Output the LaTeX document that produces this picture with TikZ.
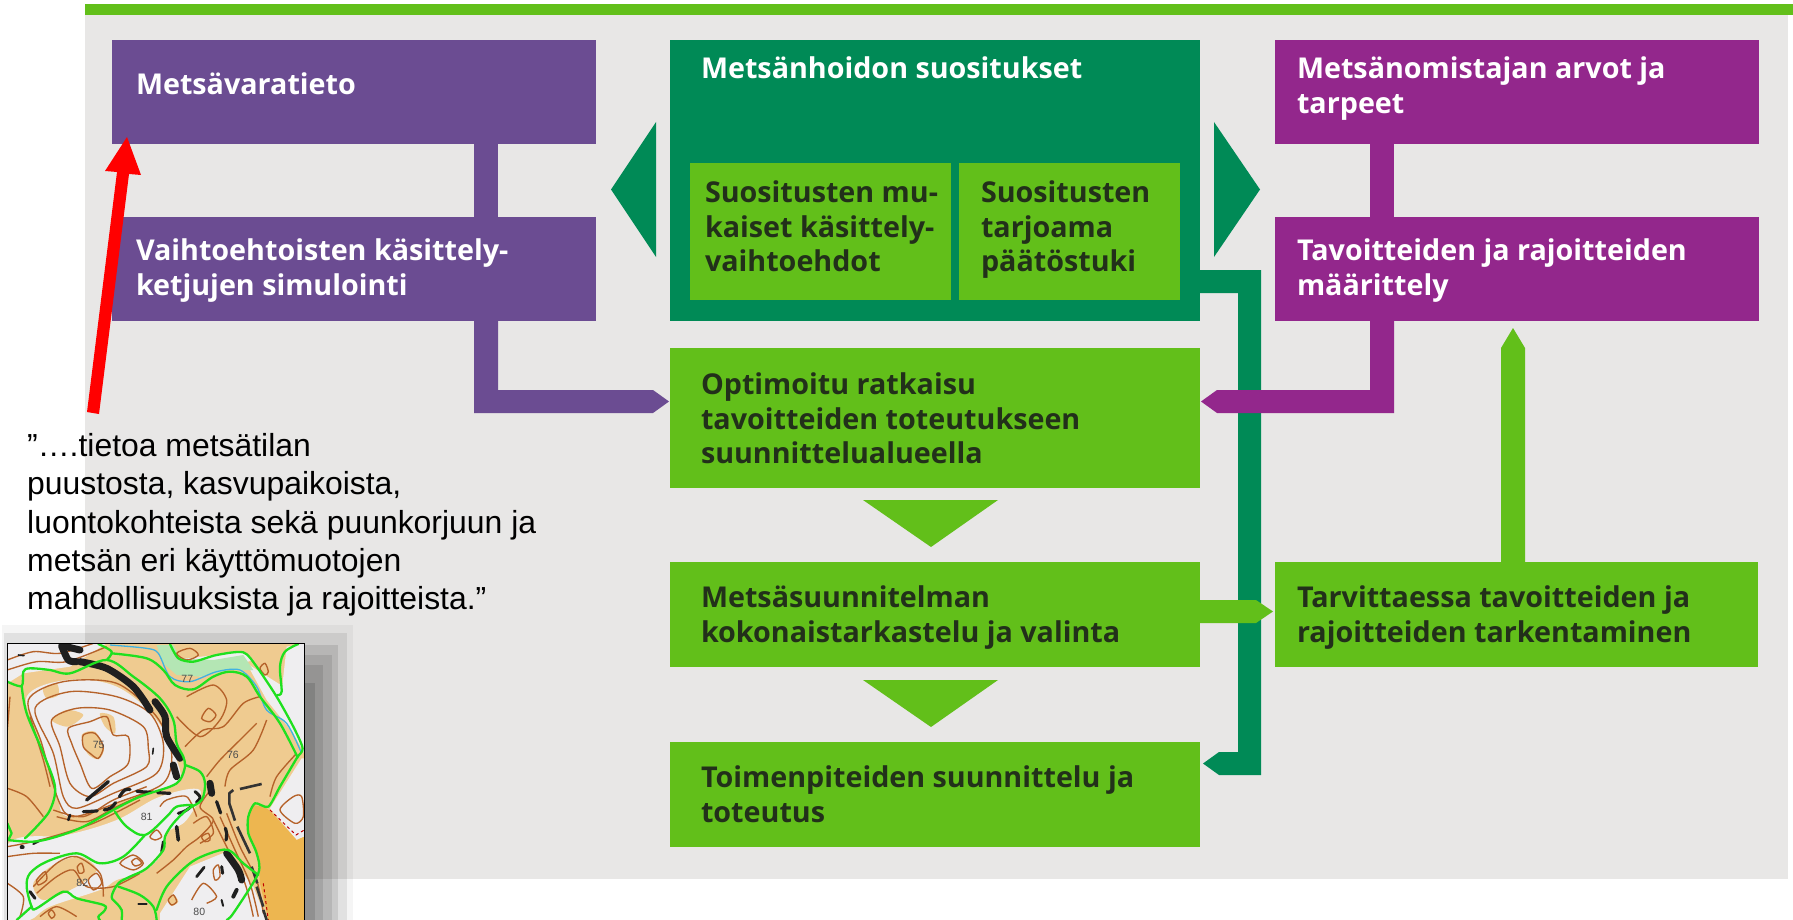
\documentclass[tikz,border=0pt]{standalone}
\usepackage{fontspec}
\setmainfont{Open Sans}
\newfontfamily\arialfont{Liberation Sans}
\usetikzlibrary{calc}
\definecolor{bggray}{HTML}{E8E7E6}
\definecolor{topgreen}{HTML}{62BF1A}
\definecolor{lgreen}{HTML}{62BF1A}
\definecolor{dgreen}{HTML}{008A56}
\definecolor{violet1}{HTML}{6B4C92}
\definecolor{magenta1}{HTML}{93278C}
\definecolor{txtdark}{HTML}{22301A}
\definecolor{maptan}{HTML}{EFCB90}
\definecolor{mapwhite}{HTML}{EFEEF0}
\definecolor{mapbrown}{HTML}{B5622A}
\definecolor{mapgreen}{HTML}{1FE01F}
\definecolor{mapblue}{HTML}{3FB2E2}
\definecolor{maporange}{HTML}{EDB650}
\definecolor{mappale}{HTML}{B4E6B4}
\tikzset{
  x=1pt,y=-1pt,
  boxtext/.style={font=\fontsize{28.7}{34.8}\selectfont\bfseries,align=left,anchor=north west,inner sep=0pt,outer sep=0pt},
  lighttext/.style={boxtext,text=white},
  darktext/.style={boxtext,text=txtdark},
  quotetext/.style={font=\arialfont\fontsize{31.9}{38.4}\selectfont,anchor=base west,inner sep=0pt,text=black},
  contour/.style={draw=mapbrown,line width=1.35pt},
  mapg/.style={draw=mapgreen,line width=2.3pt,line join=round,line cap=round},
  mapk/.style={draw=black!88,line width=7pt,line cap=round,line join=round},
  mapd/.style={draw=black!80,line width=2.6pt,line cap=butt},
  mapnum/.style={font=\arialfont\fontsize{10.5}{11}\selectfont,text=black!70,inner sep=0pt},
}
\begin{document}
\begin{tikzpicture}
\useasboundingbox (0,0) rectangle (1793,920);
\fill[white] (0,0) rectangle (1793,920);
% panel
\fill[bggray] (85,5) rectangle (1788,879);
\fill[topgreen] (85,4) rectangle (1793,15);
% connectors under boxes
\fill[violet1] (474,144) rectangle (498,217);
\fill[violet1] (474,321) -- (498,321) -- (498,390) -- (653,390) -- (669,401.5) -- (653,413) -- (474,413) -- cycle;
\fill[magenta1] (1370,144) rectangle (1394,217);
\fill[dgreen] (1200,270) -- (1261,270) -- (1261,775) -- (1219,775) -- (1203,763.5) -- (1219,752) -- (1238,752) -- (1238,293) -- (1200,293) -- cycle;
\fill[magenta1] (1370,321) -- (1394,321) -- (1394,413) -- (1217,413) -- (1201,401.5) -- (1217,390) -- (1370,390) -- cycle;
\fill[lgreen] (1200,600) -- (1256,600) -- (1273,611.5) -- (1256,623) -- (1200,623) -- cycle;
\fill[lgreen] (1501,562) -- (1501,348) -- (1513,328) -- (1525,348) -- (1525,562) -- cycle;
% triangles
\fill[dgreen] (656,122) -- (611,189.5) -- (656,257) -- cycle;
\fill[dgreen] (1214,122) -- (1260,189.5) -- (1214,257) -- cycle;
\fill[lgreen] (863,500) -- (998,500) -- (931,547) -- cycle;
\fill[lgreen] (863,680) -- (998,680) -- (931,727) -- cycle;
% boxes
\fill[violet1] (112,40) rectangle (596,144);
\node[lighttext] (t1) at (136,72.5) {Metsävaratieto};
\fill[violet1] (112,217) rectangle (596,321);
\node[lighttext] (t2) at (136,238.5) {Vaihtoehtoisten käsittely-\\ketjujen simulointi};
\fill[dgreen] (670,40) rectangle (1200,321);
\node[lighttext] (t3) at (701,56.5) {Metsänhoidon suositukset};
\fill[lgreen] (690,163) rectangle (951,300);
\node[darktext] (t4) at (705,180.5) {Suositusten mu-\\kaiset käsittely-\\vaihtoehdot};
\fill[lgreen] (959,163) rectangle (1180,300);
\node[darktext] (t5) at (981,180.5) {Suositusten\\tarjoama\\päätöstuki};
\fill[magenta1] (1275,40) rectangle (1759,144);
\node[lighttext] (t6) at (1297,56.5) {Metsänomistajan arvot ja\\tarpeet};
\fill[magenta1] (1275,217) rectangle (1759,321);
\node[lighttext] (t7) at (1297,238.5) {Tavoitteiden ja rajoitteiden\\määrittely};
\fill[lgreen] (670,348) rectangle (1200,488);
\node[darktext] (t8) at (701,372.5) {Optimoitu ratkaisu\\tavoitteiden toteutukseen\\suunnittelualueella};
\fill[lgreen] (670,562) rectangle (1200,667);
\node[darktext] (t9) at (701,585.5) {Metsäsuunnitelman\\kokonaistarkastelu ja valinta};
\fill[lgreen] (670,742) rectangle (1200,847);
\node[darktext] (t10) at (701,765.5) {Toimenpiteiden suunnittelu ja\\toteutus};
\fill[lgreen] (1275,562) rectangle (1758,667);
\node[darktext] (t11) at (1297,585.5) {Tarvittaessa tavoitteiden ja\\rajoitteiden tarkentaminen};
% red arrow
\fill[red] (87,412) -- (117,172) -- (105,171) -- (127,137) -- (141,175) -- (129,174) -- (99,414) -- cycle;
% quote
\node[quotetext] (q) at (27,456) {”….tietoa metsätilan};
\node[quotetext] (q2) at (27,494.5) {puustosta, kasvupaikoista,};
\node[quotetext] (q3) at (27,533) {luontokohteista sekä puunkorjuun ja};
\node[quotetext] (q4) at (27,571.5) {metsän eri käyttömuotojen};
\node[quotetext] (q5) at (27,609.5) {mahdollisuuksista ja rajoitteista.”};
% shadow
\foreach \l/\r/\t/\o in {2/353/625/.04,4/347/633/.08,12/338/645/.10,12/332/655/.09,12/323/665/.10,12/315/683/.12}{
  \fill[black,opacity=\o] (\l,\t) rectangle (\r,920);
}
% map
\begin{scope}[x=0.3333pt,y=-0.3333pt,shift={(0pt,-620pt)}]
\begin{scope}
\clip (22,70) rectangle (913,900);
\fill[maptan] (22,70) rectangle (913,900);
\fill[mapwhite] plot[smooth cycle,tension=.6] coordinates {(80,230)(200,180)(350,200)(470,300)(530,420)(530,490)(400,530)(210,590)(170,520)(120,350)};
\fill[mapwhite] plot[smooth cycle,tension=.6] coordinates {(22,675)(200,645)(350,600)(480,530)(600,510)(560,600)(500,640)(480,710)(420,760)(350,780)(300,810)(150,860)(90,900)(22,900)};
\fill[mapwhite] (22,70)--(320,70)--(210,140)--(70,160)--(22,190)--cycle;
\fill[mapwhite] (740,130)--(913,240)--(913,400)--(880,340)--(800,240)--cycle;
\fill[mapwhite] (520,120)--(730,95)--(760,120)--(600,170)--cycle;
\fill[mapwhite] (860,80)--(913,70)--(913,240)--(845,215)--cycle;
\fill[mapwhite] (480,880)--(570,740)--(680,695)--(760,800)--(800,900)--(480,900)--cycle;
\fill[mapwhite] (905,415)--(913,415)--(913,650)--(890,660)--(810,565)--cycle;
% tan patches on the hill and in the lower band
\fill[maptan] plot[smooth cycle] coordinates {(245,345)(285,335)(312,385)(295,418)(262,400)};
\fill[maptan] plot[smooth cycle] coordinates {(155,300)(200,270)(250,285)(205,320)};
\fill[maptan] plot[smooth cycle] coordinates {(300,280)(340,290)(345,340)(315,320)};
\fill[maptan] plot[smooth cycle] coordinates {(130,205)(170,190)(175,225)(140,235)};
\fill[maptan] plot[smooth cycle] coordinates {(100,790)(160,735)(240,710)(290,750)(230,800)(130,840)};
\fill[maptan] plot[smooth cycle] coordinates {(505,840)(520,825)(535,845)(515,858)};
\fill[maptan] plot[smooth cycle] coordinates {(190,880)(300,860)(360,900)(190,900)};
\fill[mappale] (470,75)--(520,75)--(540,115)--(640,120)--(730,105)--(760,150)--(690,150)--(600,170)--(530,165)--(490,130)--cycle;
\fill[maporange] plot[smooth,tension=.3] coordinates {(760,555)(800,565)(845,610)}--(890,660)--(913,650)--(913,900)--(805,900)--(780,790)--(775,720)--(745,640)--(742,600)--cycle;
% red dashes
\draw[red!75!black,line width=1pt,dashed] (810,570)--(888,645)--(913,630);
\draw[red!75!black,line width=1pt,dashed] (790,790)--(805,900);
% contours
\draw[contour] plot[smooth cycle] coordinates {(250,345)(285,340)(310,380)(295,415)(270,400)(250,380)};
\draw[contour] plot[smooth cycle] coordinates {(205,325)(270,305)(320,290)(340,345)(385,350)(385,430)(330,470)(275,505)(240,430)(215,370)};
\draw[contour] plot[smooth cycle] coordinates {(155,300)(230,265)(330,270)(430,320)(445,385)(440,440)(340,490)(270,530)(210,490)(180,380)};
\draw[contour] plot[smooth cycle] coordinates {(105,265)(210,215)(350,230)(450,280)(490,370)(470,460)(340,520)(230,565)(190,530)(160,400)};
\draw[contour] plot[smooth cycle] coordinates {(85,240)(190,185)(350,190)(470,290)(515,400)(490,490)(360,545)(220,590)(175,540)(125,370)};
\draw[contour] plot[smooth] coordinates {(22,120)(100,95)(180,100)(280,70)};
\draw[contour] plot[smooth] coordinates {(22,150)(110,125)(200,125)(320,80)};
\draw[contour] plot[smooth] coordinates {(30,230)(22,330)};
\draw[contour] plot[smooth] coordinates {(90,290)(130,420)(150,500)};
\draw[contour] plot[smooth] coordinates {(22,505)(80,530)(130,590)};
\draw[contour] plot[smooth] coordinates {(530,290)(600,350)(660,300)(680,240)(640,195)(560,230)};
\draw[contour] plot[smooth cycle] coordinates {(605,295)(625,265)(648,285)(630,305)};
\draw[contour] plot[smooth] coordinates {(555,380)(610,330)(670,320)(730,250)(780,230)};
\draw[contour] plot[smooth] coordinates {(620,470)(660,420)(720,360)(770,310)};
\draw[contour] plot[smooth] coordinates {(675,500)(690,450)(760,390)(800,300)};
\draw[contour] plot[smooth] coordinates {(810,530)(830,470)(890,400)};
\draw[contour] plot[smooth cycle] coordinates {(530,100)(570,85)(595,105)(560,120)};
\draw[contour] plot[smooth cycle] coordinates {(780,145)(795,130)(805,155)(795,165)};
\draw[contour] plot[smooth] coordinates {(640,500)(600,560)(640,600)(600,650)(560,680)(520,720)(470,760)};
\draw[contour] plot[smooth] coordinates {(680,580)(720,680)(770,780)(790,880)};
\draw[contour] plot[smooth] coordinates {(660,590)(705,690)(750,790)(775,890)};
\draw[contour] plot[smooth] coordinates {(640,600)(690,700)(735,790)(760,890)};
\draw[contour] plot[smooth cycle] coordinates {(605,650)(625,640)(630,660)(615,665)};
\draw[contour] plot[smooth cycle] coordinates {(450,650)(470,630)(485,650)(465,660)};
\draw[contour] plot[smooth] coordinates {(480,560)(500,540)(560,530)(590,590)};
\draw[contour] plot[smooth] coordinates {(580,610)(620,590)(640,640)(600,670)};
\draw[contour] plot[smooth] coordinates {(22,680)(120,660)(280,610)(420,540)};
\draw[contour] plot[smooth] coordinates {(160,570)(250,590)(340,540)(440,500)};
\draw[contour] plot[smooth] coordinates {(170,590)(260,605)(350,560)(460,510)};
\draw[contour] plot[smooth] coordinates {(22,710)(100,700)(180,700)};
\draw[contour] plot[smooth cycle] coordinates {(110,780)(135,755)(140,780)(115,795)};
\draw[contour] plot[smooth cycle] coordinates {(232,740)(245,730)(252,755)(238,760)};
\draw[contour] plot[smooth cycle] coordinates {(265,780)(290,760)(305,790)(280,810)};
\draw[contour] plot[smooth cycle] coordinates {(360,730)(400,705)(430,730)(400,750)};
\draw[contour] plot[smooth cycle] coordinates {(395,725)(410,715)(425,730)(405,738)};
\draw[contour] plot[smooth] coordinates {(100,800)(170,730)(230,710)(300,760)(310,830)};
\draw[contour] plot[smooth] coordinates {(110,820)(170,770)(220,750)(260,800)(340,800)(420,760)};
\draw[contour] plot[smooth] coordinates {(22,790)(70,830)(60,890)};
\draw[contour] plot[smooth] coordinates {(120,890)(170,860)(230,890)};
\draw[contour] plot[smooth cycle] coordinates {(145,880)(155,870)(165,885)(155,895)};
\draw[contour] plot[smooth] coordinates {(575,840)(610,790)(650,830)(620,850)};
\draw[contour] plot[smooth cycle] coordinates {(505,840)(520,825)(530,845)(515,855)};
\draw[contour] plot[smooth cycle] coordinates {(640,750)(655,735)(660,770)(645,780)};
\draw[contour] plot[smooth cycle] coordinates {(840,570)(880,530)(905,530)(910,590)(885,610)};
% creek
\draw[mapblue,line width=1.3pt] plot[smooth,tension=.5] coordinates {(330,75)(440,85)(475,100)(510,170)(570,185)(650,155)(720,150)(770,200)(800,270)(860,310)(905,400)};
% black features
\draw[mapk] plot[smooth] coordinates {(185,78)(205,120)(230,125)};
\draw[mapk] plot[smooth] coordinates {(190,78)(240,90)};
\draw[mapk] plot[smooth] coordinates {(240,125)(320,145)(400,200)(450,270)};
\draw[mapk] plot[smooth] coordinates {(465,245)(495,290)(500,350)(540,415)};
\draw[mapk] plot[smooth] coordinates {(520,435)(530,470)};
\draw[mapk,line width=3.4pt] (325,485)--(260,540);
\draw[mapk,line width=2.6pt,dash pattern=on 10pt off 6pt] (205,600)--(210,585);
\draw[mapk,line width=3.2pt,dash pattern=on 14pt off 7pt] plot[smooth] coordinates {(250,575)(330,565)(375,510)(420,515)(510,520)};
\draw[mapk] (630,490)--(635,520);
\draw[mapk,line width=3pt,dash pattern=on 14pt off 8pt] plot[smooth] coordinates {(585,515)(600,535)(560,570)(535,580)};
\draw[mapk,line width=3.6pt] (530,620)--(535,660);
\draw[mapk,line width=2.8pt] (490,665)--(485,695);
\draw[mapk,line width=3.2pt,dash pattern=on 12pt off 16pt] plot[smooth] coordinates {(650,545)(680,640)(670,680)};
\draw[mapk] plot[smooth] coordinates {(680,700)(715,750)(725,780)};
\draw[mapk,line width=4pt] (700,830)--(710,810);
\draw[mapk,line width=2.8pt,dash pattern=on 12pt off 14pt] (590,770)--(630,720);
\draw[mapk,line width=3pt] (665,740)--(668,760);
\draw[mapk,line width=3pt] (90,815)--(105,835);
\draw[mapk,line width=4pt] (65,682)--(68,682);
\draw[mapk,line width=2pt,dash pattern=on 8pt off 10pt] (100,672)--(135,655);
\draw[mapk,line width=2pt] (415,851)--(440,851);
\draw[mapk,line width=1.6pt] (55,105)--(72,107);
\draw[mapk,line width=1.6pt] (460,385)--(458,402);
\draw[mapk,line width=2pt,dash pattern=on 6pt off 10pt] (665,840)--(670,860);
% road dashes
\draw[mapd] (720,507)--(785,492);
\draw[mapd] (700,510)--(688,520)--(688,550)--(705,602);
\draw[mapd] (712,620)--(750,700);
\draw[mapd] (755,740)--(772,790);
\draw[mapd] (770,800)--(790,860);
\draw[mapd] (790,870)--(800,900);
% green compartment lines
\draw[mapg] plot[smooth,tension=.55] coordinates {(22,185)(65,198)(70,155)(90,145)(150,150)(210,160)(320,120)(400,170)(480,235)(520,300)(530,370)(550,410)(555,440)(540,480)(510,500)(420,530)(340,570)(250,620)(170,650)(100,665)(22,660)};
\draw[mapg] plot[smooth,tension=.55] coordinates {(65,198)(80,280)(130,400)(165,500)(150,570)(110,620)(75,655)};
\draw[mapg] plot[smooth,tension=.55] coordinates {(295,72)(335,95)(320,120)};
\draw[mapg] plot[smooth,tension=.55] coordinates {(335,100)(440,115)(490,150)(525,195)(580,208)(640,170)(690,155)(740,170)(780,230)(840,310)(893,412)};
\draw[mapg] plot[smooth,tension=.45] coordinates {(510,72)(535,115)(580,125)(650,105)(730,97)(770,140)(830,230)(880,320)(908,385)(890,415)(840,500)(805,560)(765,550)(745,590)(745,640)(770,700)(775,760)(700,880)(680,900)};
\draw[mapg] plot[smooth,tension=.55] coordinates {(555,435)(600,455)(615,490)(605,540)(560,570)(520,610)(495,650)(490,690)(440,745)(390,770)(355,790)(335,830)(350,850)(365,870)(365,900)};
\draw[mapg] plot[smooth,tension=.55] coordinates {(345,575)(380,620)(435,645)(500,590)(530,560)(578,555)};
\draw[mapg] plot[smooth,tension=.55] coordinates {(435,645)(370,710)(300,730)(230,700)(140,725)(90,760)(80,800)(95,860)(110,865)(190,815)(230,835)(310,855)(315,870)(295,890)(300,900)};
\draw[mapg] plot[smooth,tension=.55] coordinates {(355,800)(420,825)(460,860)(470,900)};
\draw[mapg] plot[smooth,tension=.55] coordinates {(470,870)(500,800)(570,730)(630,700)(685,690)(730,730)(775,765)};
\draw[mapg] (50,900)--(95,860);
\draw[mapg] plot[smooth,tension=.55] coordinates {(832,225)(845,215)(840,140)(855,95)(895,72)};
\draw[mapg] (22,610)--(35,640)--(25,660);
\end{scope}
\draw[black,line width=.9pt] (22,900)--(22,70)--(913,70)--(913,900);
\node[mapnum] (m77) at (562,177) {77};
\node[mapnum] (m75) at (296,374) {75};
\node[mapnum] (m76) at (699,405) {76};
\node[mapnum] (m81) at (440,592) {81};
\node[mapnum] (m82) at (247,789) {82};
\node[mapnum] (m80) at (598,876) {80};
\end{scope}
\end{tikzpicture}
\end{document}
